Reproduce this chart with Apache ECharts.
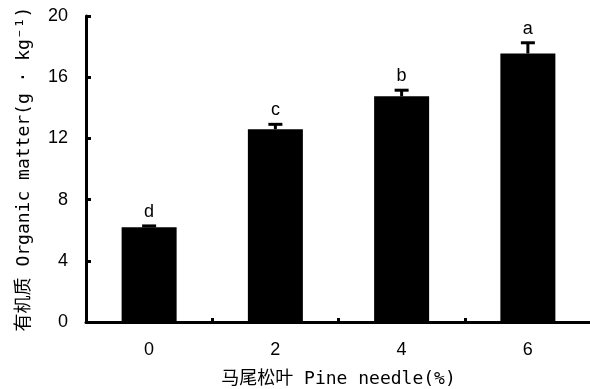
<!DOCTYPE html>
<html><head><meta charset="utf-8">
<script src="https://cdn.jsdelivr.net/npm/echarts@6/dist/echarts.min.js"></script>
<style>html,body{margin:0;padding:0;background:#fff}#c{width:590px;height:389px}</style>
</head><body><div id="c"></div>
<script>
const categories = ['0', '2', '4', '6'];
const values = [6.2, 12.6, 14.75, 17.55];
const errors = [0.08, 0.32, 0.4, 0.7];
const letters = ['d', 'c', 'b', 'a'];
const yTicks = [0, 4, 8, 12, 16, 20];

const titleFont = '"DejaVu Sans Mono", "Noto Sans CJK SC", monospace';
const chart = echarts.init(document.getElementById('c'), null, {renderer: 'canvas'});
chart.setOption({
  animation: false,
  backgroundColor: '#fff',
  grid: {left: 86, right: -1, top: 16, bottom: 67, outerBoundsMode: 'none', containLabel: false},
  xAxis: {
    type: 'category',
    data: categories,
    name: '马尾松叶 Pine needle(%)',
    nameLocation: 'middle',
    nameGap: 48,
    nameTextStyle: {fontFamily: titleFont, fontSize: 18, color: '#000'},
    axisLine: {lineStyle: {color: '#000', width: 3}},
    axisTick: {show: true, inside: true, length: 4, lineStyle: {color: '#000', width: 3}},
    axisLabel: {fontFamily: 'Liberation Sans, Arial', fontSize: 18, color: '#000', margin: 19}
  },
  yAxis: {
    type: 'value',
    min: yTicks[0], max: yTicks[yTicks.length - 1], interval: 4,
    name: '有机质 Organic matter(g · kg⁻¹)',
    nameLocation: 'middle',
    nameGap: 53,
    nameRotate: 90,
    nameTextStyle: {fontFamily: titleFont, fontSize: 18, color: '#000'},
    axisLine: {show: true, lineStyle: {color: '#000', width: 3}},
    axisTick: {show: true, inside: true, length: 5, lineStyle: {color: '#000', width: 3}},
    splitLine: {show: false},
    axisLabel: {fontFamily: 'Liberation Sans, Arial', fontSize: 18, color: '#000', margin: 18}
  },
  series: [
    {
      type: 'bar',
      data: values,
      barWidth: 55,
      itemStyle: {color: '#000'}
    },
    {
      type: 'custom',
      data: values.map((v, i) => [i, v, errors[i], letters[i]]),
      renderItem: function (params, api) {
        const x = api.value(0);
        const v = api.value(1);
        const e = api.value(2);
        const base = api.coord([x, v]);
        const top = api.coord([x, v + e]);
        const hw = 7;
        return {
          type: 'group',
          children: [
            {type: 'line', shape: {x1: base[0], y1: base[1], x2: top[0], y2: top[1]}, style: {stroke: '#000', lineWidth: 3}},
            {type: 'line', shape: {x1: top[0] - hw, y1: top[1], x2: top[0] + hw, y2: top[1]}, style: {stroke: '#000', lineWidth: 3}},
            {type: 'text', x: top[0], y: top[1] - 5, style: {text: letters[params.dataIndex], fill: '#000', font: '18px "Liberation Sans", Arial', textAlign: 'center', textVerticalAlign: 'bottom'}}
          ]
        };
      },
      z: 10
    }
  ]
});
</script>
</body></html>
